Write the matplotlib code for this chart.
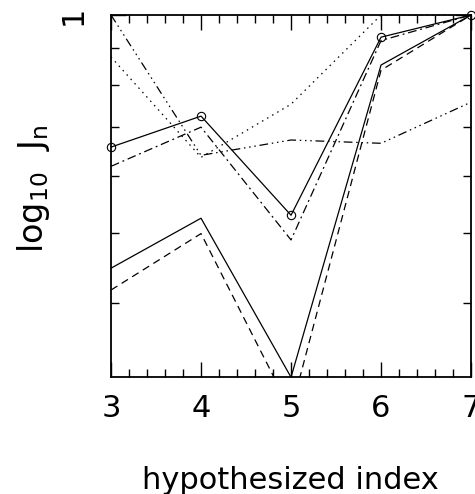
import numpy as np
import matplotlib
matplotlib.use("Agg")
import matplotlib.pyplot as plt
from matplotlib.ticker import FixedLocator, NullFormatter, FixedFormatter

plt.rcParams['font.family'] = ['DejaVu Sans']
plt.rcParams['mathtext.default'] = 'regular'

# hypothesized index
index = [3, 4, 5, 6, 7]

# J_n curves
solid_circles = [0.657, 0.725, 0.529, 0.932, 1.0]
dashdot_upper = [0.618, 0.700, 0.489, 0.922, 1.0]
solid_lower = [0.447, 0.524, 0.316, 0.853, 1.0]
dashed_lower = [0.417, 0.499, 0.284, 0.839, 1.0]
dotted = [0.875, 0.636, 0.753, 1.0, 1.0]
dashdotdot = [1.0, 0.640, 0.672, 0.665, 0.758]

y_major = [1.0]
y_major_labels = ['1']
y_minor = [0.4, 0.5, 0.6, 0.7, 0.8, 0.9]

fig = plt.figure(figsize=(4.75, 4.94), dpi=100)
ax = fig.add_axes([0.2337, 0.2368, 0.758, 0.7328])

lw = 0.9
ax.plot(index, solid_circles, color='black', lw=lw, marker='o', ms=6,
        mfc='none', mew=0.8, clip_on=False, zorder=5)
ax.plot(index, dashdot_upper, color='black', lw=lw, dashes=(7, 3, 1.5, 3))
ax.plot(index, solid_lower, color='black', lw=lw)
ax.plot(index, dashed_lower, color='black', lw=lw, dashes=(6, 4))
ax.plot(index, dotted, color='black', lw=lw, dashes=(1.2, 3.5))
ax.plot(index, dashdotdot, color='black', lw=lw,
        dashes=(7, 3, 1.2, 3, 1.2, 3, 1.2, 3))

ax.set_yscale('log')
ax.set_xlim(3, 7)
ax.set_ylim(10 ** -0.5, 1.0)

ax.xaxis.set_major_locator(FixedLocator(index))
ax.xaxis.set_minor_locator(FixedLocator(np.arange(3, 7.01, 0.2)))
ax.yaxis.set_major_locator(FixedLocator(y_major))
ax.yaxis.set_major_formatter(FixedFormatter(y_major_labels))
ax.yaxis.set_minor_locator(FixedLocator(y_minor))
ax.yaxis.set_minor_formatter(NullFormatter())

ax.tick_params(which='both', direction='in', top=True, right=True,
               width=1.0, color='black')
ax.tick_params(which='major', length=11)
ax.tick_params(which='minor', length=6)
ax.tick_params(axis='x', which='major', labelsize=22, pad=12)
ax.tick_params(axis='y', which='major', labelsize=22, pad=17)
for lab in ax.get_yticklabels():
    lab.set_rotation(90)
    lab.set_va('center')

for sp in ax.spines.values():
    sp.set_linewidth(1.3)

ax.set_xlabel('hypothesized index', fontsize=22)
ax.xaxis.set_label_coords(0.497, -0.245)
ax.set_ylabel('log$_{10}$  J$_n$', fontsize=24)
ax.yaxis.set_label_coords(-0.165, 0.519)

fig.savefig('out.png', dpi=100)
